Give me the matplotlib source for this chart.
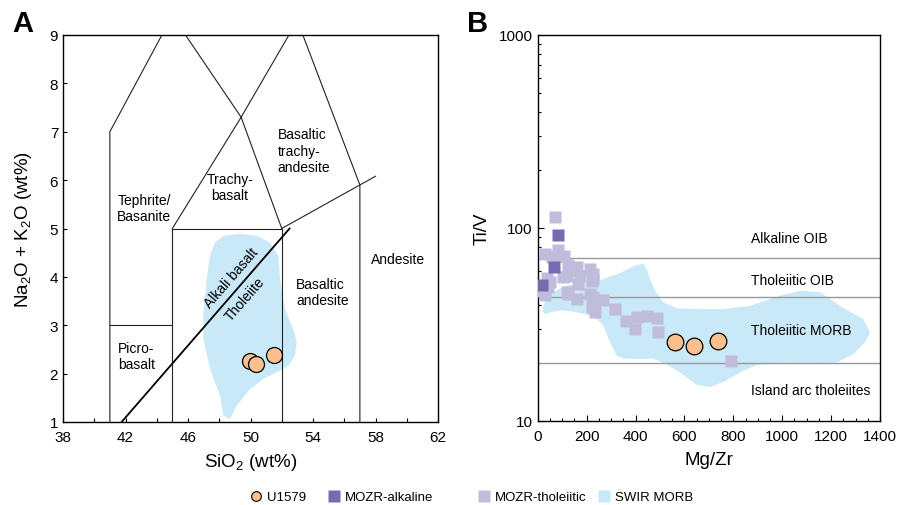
import numpy as np
import matplotlib
matplotlib.use("Agg")
import matplotlib.pyplot as plt
from matplotlib.patches import Polygon
from matplotlib.lines import Line2D
from matplotlib.ticker import MultipleLocator, FixedLocator, NullFormatter, LogLocator, FixedFormatter

plt.rcParams['font.family'] = ['Liberation Sans', 'DejaVu Sans']
plt.rcParams['mathtext.default'] = 'regular'

# ---------------- data ----------------
# Panel A: U1579 TAS
u_sio2 = [49.97, 50.35, 51.52]
u_alk = [2.26, 2.19, 2.38]

# SWIR MORB field (TAS)
swir_a_sio2 = [48.26, 49.33, 50.40, 51.25, 51.78, 51.89, 52.20, 52.74, 52.96, 52.85, 52.42,
               51.68, 50.82, 49.97, 49.12, 48.69, 48.26, 48.05, 47.41, 46.98, 46.98, 47.20,
               47.41, 47.73]
swir_a_alk = [4.85, 4.89, 4.85, 4.71, 4.44, 3.96, 3.34, 2.92, 2.65, 2.37, 2.16,
              2.03, 1.89, 1.68, 1.34, 1.06, 1.13, 1.54, 2.10, 2.72, 3.27, 3.96,
              4.44, 4.71]

# TAS boundary segments (SiO2, alkali)
tas_lines = [
    [(41, 1), (41, 7), (44.33, 9)],
    [(41, 3), (45, 3)],
    [(45, 1), (45, 5), (52, 5), (52, 1)],
    [(45, 5), (49.4, 7.3), (52.46, 9)],
    [(52, 5), (49.4, 7.3), (45.84, 9)],
    [(57, 1), (57, 5.9), (53.35, 9)],
    [(52, 5), (58, 6.08)],
]
alk_thol_line = [(41.75, 1), (52.5, 5)]

sio2_ticks = [38, 42, 46, 50, 54, 58, 62]

# Panel B: Ti/V vs Mg/Zr
u_mgzr = [562, 639, 739]
u_tiv = [25.6, 24.6, 26.1]

alk_mgzr = [83, 67, 18]
alk_tiv = [92, 63, 50.8]

thol_mgzr = [71, 82, 57, 109, 78, 30, 125, 146, 119, 160, 173, 214, 221, 227, 43, 23, 50,
             105, 166, 125, 119, 160, 214, 227, 221, 234, 268, 316, 360, 398, 405, 446,
             487, 493, 789, 40, 30, 227]
thol_tiv = [114, 77, 71, 72, 72, 73, 64, 60, 56.6, 62.5, 56.6, 61.3, 53.4, 54.5, 49.3, 47.3, 52.5,
            55.6, 51.3, 45.5, 46.5, 42.9, 45.5, 43.8, 38.8, 36.6, 42.5, 38, 33.1, 30, 34.4, 35,
            34.2, 28.8, 20.5, 55, 45, 57.8]

swir_b_mgzr = [23, 40, 70, 110, 180, 248, 343, 398, 432, 446, 459, 480, 514, 568, 664, 759,
               868, 991, 1073, 1155, 1236, 1332, 1359, 1339, 1291, 1223, 1155, 1032, 896, 841,
               759, 705, 650, 600, 527, 473, 400, 350, 323, 296, 268, 230, 160, 100, 60, 30, 20]
swir_b_tiv = [39.5, 44, 47, 50, 52, 53.3, 58.9, 63.8, 65.5, 61.4, 54.5, 47.3, 41.2, 38.4, 38, 38,
              39.5, 44.6, 47.3, 46.5, 39.5, 33.7, 28.8, 25.6, 22.2, 20.1, 19.7, 20.1, 19.5, 18.2,
              15.9, 15.0, 15.4, 17.2, 19.7, 21.0, 21.0, 21.1, 21.8, 25.6, 31.2, 35, 36.6, 37.5, 36.8,
              35.8, 37]

field_lines_tiv = [70, 44, 20]
field_labels = ["Alkaline OIB", "Tholeiitic OIB", "Tholeiitic MORB", "Island arc tholeiites"]
field_label_y = [88.5, 54, 29.7, 14.4]

# ---------------- styles ----------------
C_U = '#f9bf8f'
C_ALK = '#756bb1'
C_THOL = '#bfbcdc'
C_SWIR = '#c9e9f8'

W, H = 898, 506
fig = plt.figure(figsize=(W / 100, H / 100), dpi=100)

def ax_rect(l, r, t, b):
    return [l / W, 1 - b / H, (r - l) / W, (b - t) / H]

axA = fig.add_axes(ax_rect(63, 438, 36, 423))
axB = fig.add_axes(ax_rect(537.7, 880, 36, 422))

# ---------- Panel A ----------
axA.add_patch(Polygon(np.column_stack([swir_a_sio2, swir_a_alk]), closed=True,
                      facecolor=C_SWIR, edgecolor='none', zorder=1))
for seg in tas_lines:
    xs, ys = zip(*seg)
    axA.plot(xs, ys, color='#222222', lw=0.8, zorder=2)
xs, ys = zip(*alk_thol_line)
axA.plot(xs, ys, color='black', lw=1.3, zorder=2)
axA.plot(u_sio2, u_alk, 'o', ms=11.5, mfc=C_U, mec='black', mew=0.9, zorder=5)

axA.set_xlim(38, 62)
axA.set_ylim(1, 9)
axA.xaxis.set_major_locator(FixedLocator(sio2_ticks))
axA.xaxis.set_minor_locator(FixedLocator([t + 2 for t in sio2_ticks[:-1]]))
axA.yaxis.set_major_locator(MultipleLocator(1))
axA.tick_params(which='both', direction='in', labelsize=11, length=3, width=0.8)
axA.tick_params(axis='x', pad=6)

tfs = 10
axA.text(43.2, 5.42, "Tephrite/\nBasanite", ha='center', va='center', fontsize=tfs, linespacing=1.2)
axA.text(48.69, 5.86, "Trachy-\nbasalt", ha='center', va='center', fontsize=tfs, linespacing=1.2)
axA.text(51.74, 6.61, "Basaltic\ntrachy-\nandesite", ha='left', va='center', fontsize=tfs, linespacing=1.2)
axA.text(59.44, 4.37, "Andesite", ha='center', va='center', fontsize=tfs)
axA.text(52.91, 3.69, "Basaltic\nandesite", ha='left', va='center', fontsize=tfs, linespacing=1.2)
axA.text(41.54, 2.37, "Picro-\nbasalt", ha='left', va='center', fontsize=tfs, linespacing=1.2)
axA.text(48.8, 4.0, "Alkali basalt", ha='center', va='center', fontsize=tfs, rotation=49,
         rotation_mode='anchor')
axA.text(49.65, 3.55, "Tholeiite", ha='center', va='center', fontsize=tfs, rotation=49,
         rotation_mode='anchor')

axA.set_xlabel("SiO$_2$ (wt%)", fontsize=13.5)
axA.set_ylabel("Na$_2$O + K$_2$O (wt%)", fontsize=13.5)
axA.xaxis.set_label_coords(0.5, -0.075)
axA.yaxis.set_label_coords(-0.077, 0.5)

# ---------- Panel B ----------
axB.set_yscale('log')
axB.add_patch(Polygon(np.column_stack([swir_b_mgzr, swir_b_tiv]), closed=True,
                      facecolor=C_SWIR, edgecolor='none', zorder=1))
for v in field_lines_tiv:
    axB.axhline(v, color='#999999', lw=1.0, zorder=2)
axB.plot(thol_mgzr, thol_tiv, 's', ms=8.6, mfc=C_THOL, mec='none', zorder=3)
axB.plot(alk_mgzr, alk_tiv, 's', ms=8.6, mfc=C_ALK, mec='none', zorder=4)
axB.plot(u_mgzr, u_tiv, 'o', ms=12, mfc=C_U, mec='black', mew=0.9, zorder=5)
for lab, yv in zip(field_labels, field_label_y):
    axB.text(871, yv, lab, ha='left', va='center', fontsize=tfs)

axB.set_xlim(0, 1400)
axB.set_ylim(10, 1000)
axB.xaxis.set_major_locator(MultipleLocator(200))
axB.xaxis.set_minor_locator(MultipleLocator(50))
axB.yaxis.set_major_locator(FixedLocator([10, 100, 1000]))
axB.yaxis.set_major_formatter(FixedFormatter(['10', '100', '1000']))
axB.yaxis.set_minor_locator(LogLocator(base=10, subs=np.arange(2, 10)))
axB.yaxis.set_minor_formatter(NullFormatter())
axB.tick_params(which='both', direction='in', labelsize=11, width=0.8)
axB.tick_params(which='major', length=4)
axB.tick_params(which='minor', length=2.5)
axB.tick_params(axis='x', pad=6)
axB.set_xlabel("Mg/Zr", fontsize=13.5)
axB.set_ylabel("Ti/V", fontsize=13.5)
axB.xaxis.set_label_coords(0.5, -0.078)
axB.yaxis.set_label_coords(-0.137, 0.5)

for ax in (axA, axB):
    for s in ax.spines.values():
        s.set_linewidth(1.0)

fig.text(23 / W, 1 - 24 / H, "A", fontsize=21, fontweight='bold', ha='center', va='center')
fig.text(478 / W, 1 - 24 / H, "B", fontsize=21, fontweight='bold', ha='center', va='center')

# ---------- legend ----------
handles = [
    Line2D([], [], marker='o', ls='none', ms=7, mfc=C_U, mec='black', mew=0.8),
    Line2D([], [], marker='s', ls='none', ms=8.4, mfc=C_ALK, mec='none'),
    Line2D([], [], marker='s', ls='none', ms=8.4, mfc=C_THOL, mec='none'),
    Line2D([], [], marker='s', ls='none', ms=8.4, mfc=C_SWIR, mec='none'),
]
labels = ["U1579", "MOZR-alkaline", "MOZR-tholeiitic", "SWIR MORB"]
centers = [256, 334, 484, 604]
for h, l, cx in zip(handles, labels, centers):
    fig.legend([h], [l], loc='center left', bbox_to_anchor=((cx - 6.6) / W, 1 - 498 / H),
               frameon=False, fontsize=9.5, handlelength=1.0, handletextpad=0.3,
               borderpad=0, borderaxespad=0)

fig.savefig("out.png", dpi=100)
